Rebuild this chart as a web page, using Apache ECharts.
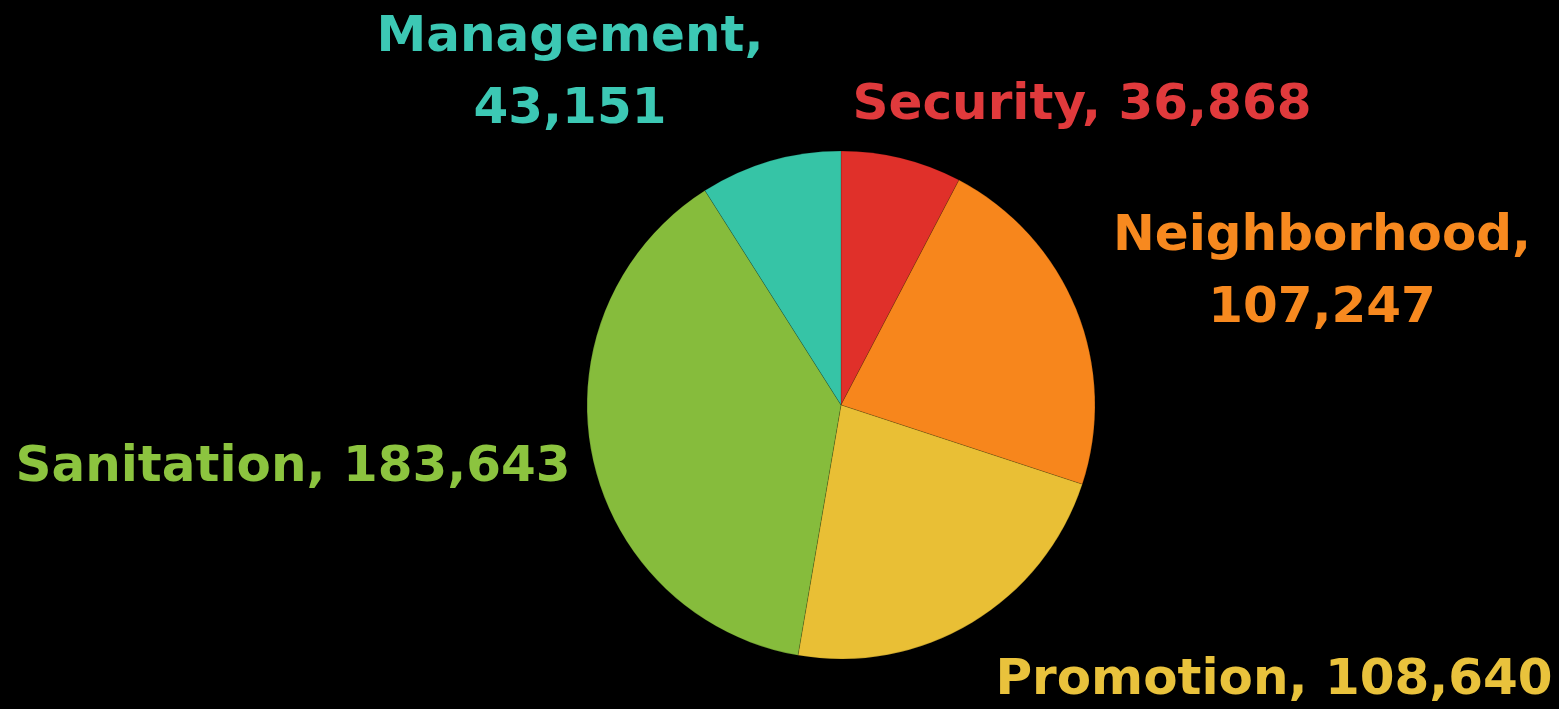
<!DOCTYPE html>
<html>
<head>
<meta charset="utf-8">
<script src="https://cdn.jsdelivr.net/npm/echarts@6/dist/echarts.min.js"></script>
<style>
html,body{margin:0;padding:0;background:#000;}
#chart{width:1559px;height:709px;}
</style>
</head>
<body>
<div id="chart"></div>
<script>
const categories = ['Security', 'Neighborhood', 'Promotion', 'Sanitation', 'Management'];
const values = [36868, 107247, 108640, 183643, 43151];
const sliceColors = ['#e0302a', '#f7861c', '#e9bf35', '#86bc3c', '#36c4a6'];
const labelColors = ['#e03a3c', '#f7891f', '#e9c23c', '#8cc43f', '#3cc8b4'];
const labelBreak = [false, true, false, false, true];
// label anchor placement (centre of label block), in px
const labelAnchors = [[1082, 106], [1322, 273], [1274, 681], [293, 468], [570, 74]];

const chart = echarts.init(document.getElementById('chart'));
const fmt = v => v.toLocaleString('en-US');
chart.setOption({
  backgroundColor: '#000',
  animation: false,
  series: [{
    type: 'pie',
    center: [841, 405],
    radius: 254,
    startAngle: 90,
    clockwise: true,
    data: categories.map((c, i) => ({
      name: c,
      value: values[i],
      itemStyle: { color: sliceColors[i] },
      label: { color: labelColors[i] }
    })),
    itemStyle: { borderColor: 'rgba(0,0,0,0.25)', borderWidth: 0.6 },
    label: {
      show: true,
      position: 'outside',
      fontFamily: 'DejaVu Sans',
      fontWeight: 'bold',
      fontSize: 50,
      lineHeight: 72,
      width: 700,
      overflow: 'none',
      align: 'center',
      formatter: p => p.name + ',' + (labelBreak[p.dataIndex] ? '\n' : ' ') + fmt(p.value)
    },
    labelLine: { show: false },
    labelLayout: p => ({
      x: labelAnchors[p.dataIndex][0],
      y: labelAnchors[p.dataIndex][1],
      align: 'center',
      verticalAlign: 'middle',
      hideOverlap: false
    })
  }]
});
</script>
</body>
</html>
